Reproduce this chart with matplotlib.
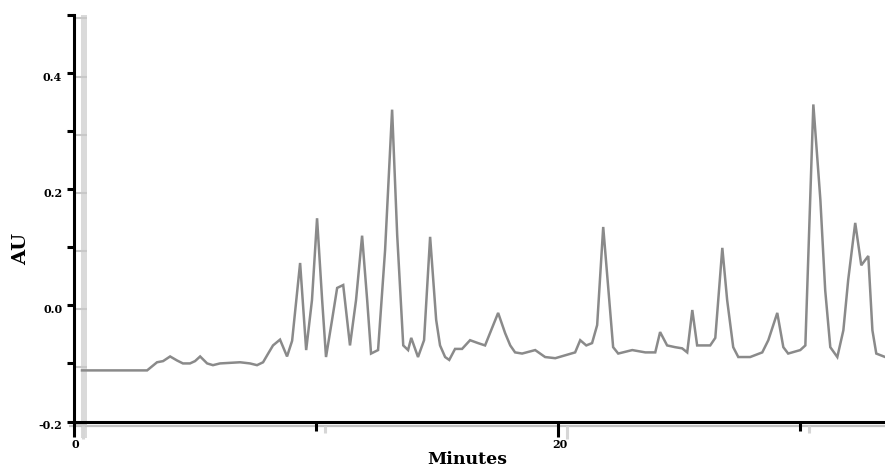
import matplotlib
matplotlib.use("Agg")
import matplotlib.pyplot as plt
from matplotlib.patches import Rectangle
from matplotlib.ticker import FixedLocator, FixedFormatter, NullFormatter
import matplotlib.transforms as mtransforms

# Chromatogram trace: retention time (minutes) and absorbance (AU)
time_min = [
    0.33, 3.02, 3.43, 3.68, 3.97, 4.26, 4.50, 4.79, 5.00, 5.21, 5.50, 5.74,
    6.03, 6.86, 7.27, 7.56, 7.81, 8.02, 8.22, 8.51, 8.80, 9.01, 9.34, 9.59,
    9.83, 10.04, 10.25, 10.41, 10.66, 10.87, 11.12, 11.40, 11.65, 11.90,
    12.11, 12.27, 12.56, 12.85, 13.14, 13.35, 13.60, 13.80, 13.93, 14.21,
    14.46, 14.71, 14.96, 15.12, 15.33, 15.50, 15.74, 16.03, 16.36, 16.69,
    16.98, 17.23, 17.52, 17.81, 18.02, 18.22, 18.51, 19.05, 19.46, 19.88,
    20.29, 20.70, 20.91, 21.16, 21.40, 21.61, 21.86, 22.11, 22.27, 22.48,
    23.06, 23.60, 24.01, 24.21, 24.50, 24.83, 25.12, 25.33, 25.54, 25.74,
    26.28, 26.49, 26.78, 26.98, 27.23, 27.44, 27.93, 28.43, 28.68, 29.05,
    29.30, 29.50, 30.00, 30.21, 30.54, 30.83, 31.03, 31.24, 31.53, 31.78,
    31.98, 32.27, 32.52, 32.81, 32.98, 33.14, 33.51,
]
absorbance = [
    -0.112, -0.112, -0.098, -0.096, -0.088, -0.095, -0.100, -0.100, -0.096,
    -0.088, -0.100, -0.103, -0.100, -0.098, -0.100, -0.103, -0.098, -0.083,
    -0.069, -0.059, -0.088, -0.061, 0.073, -0.077, 0.009, 0.150, 0.009,
    -0.089, -0.025, 0.030, 0.035, -0.069, 0.009, 0.120, 0.009, -0.083,
    -0.077, 0.095, 0.337, 0.121, -0.069, -0.077, -0.056, -0.089, -0.060,
    0.118, -0.025, -0.069, -0.089, -0.094, -0.075, -0.075, -0.060, -0.065,
    -0.069, -0.043, -0.013, -0.048, -0.069, -0.081, -0.083, -0.077, -0.089,
    -0.091, -0.086, -0.081, -0.060, -0.069, -0.065, -0.034, 0.135, 0.009,
    -0.072, -0.083, -0.077, -0.081, -0.081, -0.046, -0.069, -0.072, -0.074,
    -0.081, -0.008, -0.069, -0.069, -0.056, 0.099, 0.009, -0.072, -0.089,
    -0.089, -0.081, -0.060, -0.013, -0.072, -0.083, -0.077, -0.069, 0.346,
    0.182, 0.026, -0.072, -0.089, -0.043, 0.044, 0.142, 0.069, 0.085,
    -0.043, -0.083, -0.089,
]

x_major = [0, 20]
x_minor = [10, 30]
x_labels = ["0", "20"]
y_major = [-0.2, 0.0, 0.2, 0.4]
y_minor = [-0.1, 0.1, 0.3, 0.5]
y_labels = ["-0.2", "0.0", "0.2", "0.4"]

plt.rcParams["axes.unicode_minus"] = False
plt.rcParams["font.family"] = ["DejaVu Serif"]
plt.rcParams["font.weight"] = "bold"

W, H, DPI = 885, 468, 100
fig = plt.figure(figsize=(W / DPI, H / DPI), dpi=DPI)
ax = fig.add_axes([74 / W, (H - 421.5) / H, (W - 74) / W, (421.5 - 15) / H])
ax.set_xlim(0, 33.5)
ax.set_ylim(-0.2, 0.5)

# faint offset copy of the axes frame
ax.add_patch(Rectangle((0.29, -0.229), 0.25, 0.729, facecolor="#dadada",
                       edgecolor="none", clip_on=False, zorder=0.5))
ax.plot([-0.2, 33.5], [-0.2086, -0.2086], color="#c2c2c2", lw=1.6,
        clip_on=False, zorder=0.6, solid_capstyle="butt")
for xt, ln in zip(x_major + x_minor, [0.022, 0.022, 0.012, 0.012]):
    ax.plot([xt + 0.37, xt + 0.37], [-0.2086, -0.2086 - ln], color="#d6d6d6",
            lw=2.2, clip_on=False, zorder=0.6, solid_capstyle="butt")
for yt in y_major + y_minor:
    ax.plot([0.02, 0.54], [yt - 0.006, yt - 0.006], color="#c8c8c8", lw=1.5,
            clip_on=False, zorder=0.7, solid_capstyle="butt")

ax.plot(time_min, absorbance, color="#8a8a8a", lw=1.8, zorder=2,
        solid_joinstyle="miter")

for side in ("top", "right"):
    ax.spines[side].set_visible(False)
for side in ("left", "bottom"):
    ax.spines[side].set_linewidth(2.2)
    ax.spines[side].set_color("black")
    ax.spines[side].set_zorder(3)

ax.xaxis.set_major_locator(FixedLocator(x_major))
ax.xaxis.set_major_formatter(FixedFormatter(x_labels))
ax.xaxis.set_minor_locator(FixedLocator(x_minor))
ax.xaxis.set_minor_formatter(NullFormatter())
ax.yaxis.set_major_locator(FixedLocator(y_major))
ax.yaxis.set_major_formatter(FixedFormatter(y_labels))
ax.yaxis.set_minor_locator(FixedLocator(y_minor))
ax.yaxis.set_minor_formatter(NullFormatter())

ax.tick_params(axis="x", which="major", length=11, width=2.2, pad=1.5,
               labelsize=8, direction="out")
ax.tick_params(axis="x", which="minor", length=6.5, width=2.2,
               direction="out")
ax.tick_params(axis="y", which="both", length=5, width=2.2, pad=3.5,
               labelsize=8, direction="out")

shift_down = mtransforms.ScaledTranslation(0, -3 / DPI, fig.dpi_scale_trans)
for lab in ax.get_yticklabels():
    lab.set_transform(lab.get_transform() + shift_down)
    lab.set_fontweight("bold")
shift_right = mtransforms.ScaledTranslation(1.5 / DPI, 0, fig.dpi_scale_trans)
for lab in ax.get_xticklabels():
    lab.set_transform(lab.get_transform() + shift_right)
    lab.set_fontweight("bold")

fig.text(467.5 / W, 1 - 459 / H, "Minutes", ha="center", va="center",
         fontsize=12.5, fontweight="bold")
fig.text(21 / W, 1 - 249 / H, "AU", ha="center", va="center", rotation=90,
         fontsize=14, fontweight="bold")

fig.savefig("out.png", dpi=DPI)
